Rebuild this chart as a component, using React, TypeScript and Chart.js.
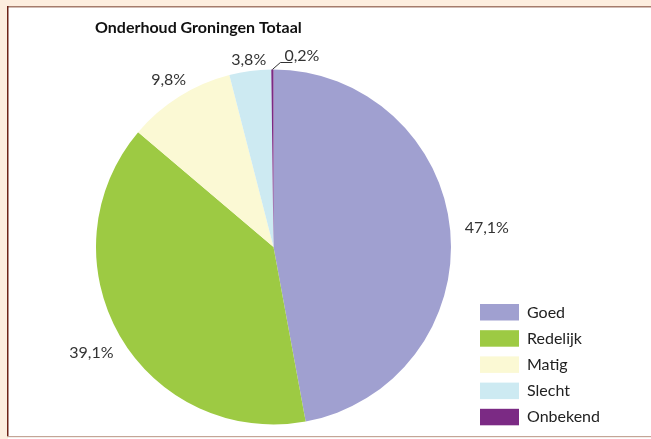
import React, { useEffect, useRef } from "react";
import { Chart, registerables } from "chart.js";

Chart.register(...registerables);

const title = "Onderhoud Groningen Totaal";
const categories = ["Goed", "Redelijk", "Matig", "Slecht", "Onbekend"];
const values = [47.1, 39.1, 9.8, 3.8, 0.2];
const valueLabels = ["47,1%", "39,1%", "9,8%", "3,8%", "0,2%"];
const colors = ["#a0a0d0", "#9dca43", "#fbf9d4", "#cdeaf2", "#7b2a84"];

const W = 651;
const H = 439;

const framePlugin = {
  id: "frame",
  beforeDraw(chart: any) {
    const ctx = chart.ctx;
    ctx.save();
    ctx.fillStyle = "#fdeedf";
    ctx.fillRect(0, 0, W, H);
    ctx.fillStyle = "#ffffff";
    ctx.fillRect(8, 7, W - 8, H - 7);
    ctx.fillStyle = "#a57c6c";
    ctx.fillRect(7, 6, W - 7, 1.5);
    ctx.fillStyle = "#6e2418";
    ctx.fillRect(7, 6, 1.5, 431);
    ctx.fillStyle = "#c4a596";
    ctx.fillRect(7, 436, W - 7, 1.2);
    ctx.restore();
  },
};

const decorPlugin = {
  id: "decor",
  afterDraw(chart: any) {
    const ctx = chart.ctx;
    ctx.save();
    // title
    ctx.fillStyle = "#111111";
    ctx.font = "bold 16px Lato";
    ctx.textAlign = "left";
    ctx.textBaseline = "middle";
    ctx.fillText(title, 95, 28);

    // value labels
    const meta = chart.getDatasetMeta(0);
    ctx.font = "16px Lato";
    ctx.fillStyle = "#333333";
    ctx.strokeStyle = "#333333";
    meta.data.forEach((arc: any, i: number) => {
      const p = arc.getProps(["x", "y", "startAngle", "endAngle", "outerRadius"], true);
      const mid = (p.startAngle + p.endAngle) / 2;
      const c = Math.cos(mid);
      const s = Math.sin(mid);
      const text = valueLabels[i];
      const w = ctx.measureText(text).width;
      if (values[i] < 1) {
        const px = p.x + c * p.outerRadius;
        const py = p.y + s * p.outerRadius;
        ctx.lineWidth = 1;
        ctx.beginPath();
        ctx.moveTo(px, py);
        ctx.lineTo(px + 8, py - 7);
        ctx.lineTo(px + 20, py - 7);
        ctx.stroke();
        ctx.textAlign = "left";
        ctx.textBaseline = "alphabetic";
        ctx.fillText(text, px + 12, py - 9);
      } else {
        const d = p.outerRadius + 8 + Math.abs(c) * w * 0.65;
        ctx.textAlign = "center";
        ctx.textBaseline = "middle";
        ctx.fillText(text, p.x + c * d, p.y + s * d);
      }
    });

    // legend
    ctx.font = "16px Lato";
    ctx.textAlign = "left";
    ctx.textBaseline = "middle";
    categories.forEach((cat, i) => {
      const top = 304 + i * 26.2;
      ctx.fillStyle = colors[i];
      ctx.fillRect(480, top, 39, 16.5);
      ctx.fillStyle = "#222222";
      ctx.fillText(cat, 527, top + 8.5);
    });
    ctx.restore();
  },
};

export default function App() {
  const ref = useRef<HTMLCanvasElement | null>(null);
  useEffect(() => {
    if (!ref.current) return;
    const chart = new Chart(ref.current, {
      type: "pie",
      data: {
        labels: categories,
        datasets: [
          {
            data: values,
            backgroundColor: colors,
            borderWidth: 0,
          },
        ],
      },
      options: {
        responsive: false,
        animation: false,
        devicePixelRatio: 1,
        layout: { padding: { left: 96, right: 200, top: 69.5, bottom: 14.5 } },
        plugins: {
          legend: { display: false },
          tooltip: { enabled: false },
          title: { display: false },
        },
      },
      plugins: [framePlugin, decorPlugin],
    });
    return () => chart.destroy();
  }, []);
  return (
    <div style={{ position: "fixed", left: 0, top: 0, width: W, height: H }}>
      <canvas ref={ref} width={W} height={H} style={{ display: "block", width: W, height: H }} />
    </div>
  );
}
